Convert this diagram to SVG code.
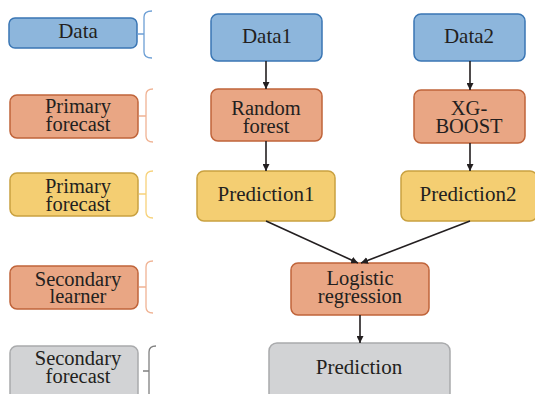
<svg xmlns="http://www.w3.org/2000/svg" width="535" height="394" viewBox="0 0 535 394">
<defs>
<style>
text{font-family:'Liberation Serif','Times New Roman','DejaVu Serif',serif;font-size:21px;fill:#231f20;text-anchor:middle}
.two{font-size:20.5px}
.blue{fill:#8db6dc;stroke:#3a76b4;stroke-width:1.5}
.orange{fill:#e9a684;stroke:#c0643a;stroke-width:1.5}
.yellow{fill:#f4ce72;stroke:#c9a140;stroke-width:1.5}
.gray{fill:#d2d3d5;stroke:#a9aaac;stroke-width:1.5}
.br{fill:none;stroke-width:1.3}
.conn{stroke:#231f20;stroke-width:1.6;fill:none;marker-end:url(#ah)}
</style>
<marker id="ah" viewBox="0 0 10 10" refX="10" refY="5" markerWidth="7" markerHeight="7" markerUnits="userSpaceOnUse" orient="auto">
<path d="M0 0 L10 5 L0 10 Z" fill="#231f20"/>
</marker>
</defs>
<g font-family="'Liberation Serif','Times New Roman',serif">
<g id="legend-data">
<rect class="blue" x="9" y="18" width="128" height="30" rx="6"/>
<text x="78" y="38">Data</text>
<path class="br" stroke="#6d9fd5" d="M152 11 Q144 11 144 17 V52 Q144 58 152 58 M137 34 H144"/>
</g>
<g id="legend-primary1">
<rect class="orange" x="10" y="95" width="128" height="43" rx="7"/>
<text class="two" x="78" y="113">Primary</text>
<text class="two" x="78" y="131">forecast</text>
<path class="br" stroke="#f0b394" d="M153 89 Q146 89 146 95 V136 Q146 142 153 142 M139 116 H146"/>
</g>
<g id="legend-primary2">
<rect class="yellow" x="10" y="173" width="128" height="43" rx="7"/>
<text class="two" x="78" y="193">Primary</text>
<text class="two" x="78" y="211">forecast</text>
<path class="br" stroke="#f7d27a" d="M153 171 Q146 171 146 177 V212 Q146 218 153 218 M139 194 H146"/>
</g>
<g id="legend-secondary-learner">
<rect class="orange" x="10" y="266" width="128" height="43" rx="7"/>
<text class="two" x="78" y="286">Secondary</text>
<text class="two" x="78" y="303">learner</text>
<path class="br" stroke="#f0b394" d="M153 261 Q146 261 146 267 V307 Q146 313 153 313 M139 287 H146"/>
</g>
<g id="legend-secondary-forecast">
<rect class="gray" x="10" y="346" width="128" height="60" rx="7"/>
<text class="two" x="78" y="365">Secondary</text>
<text class="two" x="78" y="383">forecast</text>
<path class="br" stroke="#808080" d="M156 346 Q149 346 149 352 V400 M143 371 H149"/>
</g>
<g id="data1">
<rect class="blue" x="211" y="14" width="111" height="47" rx="7"/>
<text x="267" y="43">Data1</text>
</g>
<g id="data2">
<rect class="blue" x="414" y="14" width="111" height="47" rx="7"/>
<text x="469" y="43">Data2</text>
</g>
<g id="random-forest">
<rect class="orange" x="211" y="89" width="111" height="52" rx="7"/>
<text class="two" x="266" y="115">Random</text>
<text class="two" x="266" y="133">forest</text>
</g>
<g id="xgboost">
<rect class="orange" x="414" y="90" width="111" height="53" rx="7"/>
<text class="two" x="469" y="115">XG-</text>
<text class="two" x="469" y="133">BOOST</text>
</g>
<g id="prediction1">
<rect class="yellow" x="197" y="171" width="138" height="50" rx="7"/>
<text x="266" y="201">Prediction1</text>
</g>
<g id="prediction2">
<rect class="yellow" x="401" y="171" width="136" height="50" rx="7"/>
<text x="468" y="201">Prediction2</text>
</g>
<g id="logistic-regression">
<rect class="orange" x="291" y="263" width="138" height="52" rx="7"/>
<text class="two" x="360" y="285">Logistic</text>
<text class="two" x="360" y="303">regression</text>
</g>
<g id="prediction">
<rect class="gray" x="269" y="343" width="181" height="60" rx="8"/>
<text x="359" y="374">Prediction</text>
</g>
</g>
<g id="connectors">
<path class="conn" d="M266 61 V89"/>
<path class="conn" d="M470 61 V90"/>
<path class="conn" d="M266 141 V171"/>
<path class="conn" d="M470 143 V171"/>
<path class="conn" d="M266 221 L358 263"/>
<path class="conn" d="M470 221 L361 263"/>
<path class="conn" d="M360 315 V343"/>
</g>
</svg>
